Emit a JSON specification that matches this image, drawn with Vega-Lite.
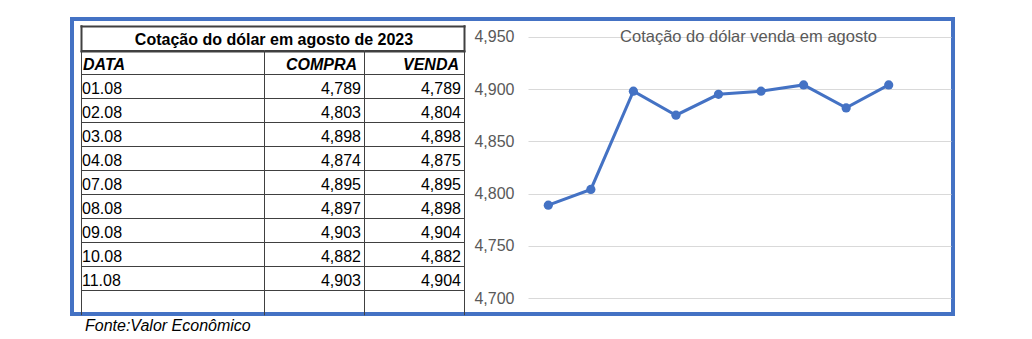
{
  "$schema": "https://vega.github.io/schema/vega-lite/v6.json",
  "background": "white",
  "autosize": {"type": "none"},
  "padding": {"left": 72, "top": 19, "right": 79, "bottom": 25},
  "width": 881,
  "height": 295,
  "view": {"stroke": "#4472C4", "strokeWidth": 4},
  "datasets": {
    "dolar": [
      {"DATA": "01.08", "COMPRA": 4.789, "VENDA": 4.789},
      {"DATA": "02.08", "COMPRA": 4.803, "VENDA": 4.804},
      {"DATA": "03.08", "COMPRA": 4.898, "VENDA": 4.898},
      {"DATA": "04.08", "COMPRA": 4.874, "VENDA": 4.875},
      {"DATA": "07.08", "COMPRA": 4.895, "VENDA": 4.895},
      {"DATA": "08.08", "COMPRA": 4.897, "VENDA": 4.898},
      {"DATA": "09.08", "COMPRA": 4.903, "VENDA": 4.904},
      {"DATA": "10.08", "COMPRA": 4.882, "VENDA": 4.882},
      {"DATA": "11.08", "COMPRA": 4.903, "VENDA": 4.904}
    ]
  },
  "title": {"text": "Fonte:Valor Econômico", "orient": "bottom", "anchor": "start", "frame": "group", "fontSize": 16, "fontStyle": "italic", "fontWeight": "normal", "color": "#000000", "baseline": "alphabetic", "offset": 17, "dx": 13},
  "layer": [
    {
      "data": {"values": [{"titulo": "Cotação do dólar em agosto de 2023"}]},
      "mark": {"type": "text", "fontSize": 16, "fontWeight": "bold", "baseline": "alphabetic", "dy": 7, "dx": 1.5, "color": "#000000"},
      "encoding": {
        "x": {"datum": 0.5, "type": "quantitative", "scale": {"domain": [0, 1], "range": [9, 392]}, "axis": {"orient": "top", "values": [0, 1], "grid": true, "gridColor": "#404040", "gridWidth": 2, "gridCap": "square", "gridOpacity": 1, "labels": false, "ticks": false, "domain": false, "title": null}},
        "y": {"datum": 0.5, "type": "quantitative", "scale": {"domain": [0, 1], "range": [31.7, 6.7]}, "axis": {"orient": "left", "values": [0, 1], "grid": true, "gridColor": "#404040", "gridWidth": 2, "gridCap": "square", "gridOpacity": 1, "labels": false, "ticks": false, "domain": false, "title": null}},
        "text": {"field": "titulo"}
      }
    },
    {
      "layer": [
        {
          "data": {"name": "dolar"},
          "mark": {"type": "text", "align": "left", "baseline": "alphabetic", "dx": 1, "dy": 7, "fontSize": 16, "color": "#000000"},
          "encoding": {
            "x": {"datum": 0, "type": "quantitative", "scale": {"domain": [0, 1], "range": [9, 192]}, "axis": {"orient": "top", "values": [0, 1], "grid": true, "gridColor": "#404040", "gridWidth": 1, "gridOpacity": 1, "labels": false, "ticks": false, "domain": false, "title": null}},
            "y": {"field": "DATA", "type": "nominal", "scale": {"type": "band", "domain": ["DATA", "01.08", "02.08", "03.08", "04.08", "07.08", "08.08", "09.08", "10.08", "11.08", " "], "range": [31.7, 295.7], "paddingInner": 0, "paddingOuter": 0}, "axis": {"orient": "left", "grid": true, "bandPosition": 0, "gridColor": "#404040", "gridWidth": 1, "gridOpacity": 1, "labels": false, "ticks": false, "domain": false, "title": null}},
            "text": {"field": "DATA"}
          }
        },
        {
          "data": {"values": [{"cabecalho": "DATA"}]},
          "mark": {"type": "text", "align": "left", "baseline": "alphabetic", "dx": 2, "dy": 7, "fontSize": 16, "fontWeight": "bold", "fontStyle": "italic", "color": "#000000"},
          "encoding": {
            "x": {"datum": 0, "type": "quantitative"},
            "y": {"datum": "DATA", "type": "nominal"},
            "text": {"field": "cabecalho"}
          }
        }
      ]
    },
    {
      "layer": [
        {
          "data": {"name": "dolar"},
          "mark": {"type": "text", "align": "right", "baseline": "alphabetic", "dx": -3, "dy": 7, "fontSize": 16, "color": "#000000"},
          "encoding": {
            "x": {"datum": 1, "type": "quantitative", "scale": {"domain": [0, 1], "range": [192, 292]}, "axis": {"orient": "top", "values": [0, 1], "grid": true, "gridColor": "#404040", "gridWidth": 1, "gridOpacity": 1, "labels": false, "ticks": false, "domain": false, "title": null}},
            "y": {"field": "DATA", "type": "nominal", "scale": {"type": "band", "domain": ["DATA", "01.08", "02.08", "03.08", "04.08", "07.08", "08.08", "09.08", "10.08", "11.08", " "], "range": [31.7, 295.7], "paddingInner": 0, "paddingOuter": 0}, "axis": {"orient": "left", "grid": true, "bandPosition": 0, "gridColor": "#404040", "gridWidth": 1, "gridOpacity": 1, "labels": false, "ticks": false, "domain": false, "title": null}},
            "text": {"field": "COMPRA", "type": "quantitative", "format": ".3f"}
          }
        },
        {
          "data": {"values": [{"cabecalho": "COMPRA"}]},
          "mark": {"type": "text", "align": "right", "baseline": "alphabetic", "dx": -7, "dy": 7, "fontSize": 16, "fontWeight": "bold", "fontStyle": "italic", "color": "#000000"},
          "encoding": {
            "x": {"datum": 1, "type": "quantitative"},
            "y": {"datum": "DATA", "type": "nominal"},
            "text": {"field": "cabecalho"}
          }
        }
      ]
    },
    {
      "layer": [
        {
          "data": {"name": "dolar"},
          "mark": {"type": "text", "align": "right", "baseline": "alphabetic", "dx": -3, "dy": 7, "fontSize": 16, "color": "#000000"},
          "encoding": {
            "x": {"datum": 1, "type": "quantitative", "scale": {"domain": [0, 1], "range": [292, 392]}, "axis": {"orient": "top", "values": [0, 1], "grid": true, "gridColor": "#404040", "gridWidth": 1, "gridOpacity": 1, "labels": false, "ticks": false, "domain": false, "title": null}},
            "y": {"field": "DATA", "type": "nominal", "scale": {"type": "band", "domain": ["DATA", "01.08", "02.08", "03.08", "04.08", "07.08", "08.08", "09.08", "10.08", "11.08", " "], "range": [31.7, 295.7], "paddingInner": 0, "paddingOuter": 0}, "axis": {"orient": "left", "grid": true, "bandPosition": 0, "gridColor": "#404040", "gridWidth": 1, "gridOpacity": 1, "labels": false, "ticks": false, "domain": false, "title": null}},
            "text": {"field": "VENDA", "type": "quantitative", "format": ".3f"}
          }
        },
        {
          "data": {"values": [{"cabecalho": "VENDA"}]},
          "mark": {"type": "text", "align": "right", "baseline": "alphabetic", "dx": -5, "dy": 7, "fontSize": 16, "fontWeight": "bold", "fontStyle": "italic", "color": "#000000"},
          "encoding": {
            "x": {"datum": 1, "type": "quantitative"},
            "y": {"datum": "DATA", "type": "nominal"},
            "text": {"field": "cabecalho"}
          }
        }
      ]
    },
    {
      "layer": [
        {
          "data": {"name": "dolar"},
          "encoding": {
            "x": {"field": "DATA", "type": "ordinal", "scale": {"type": "point", "range": [456, 879], "padding": 0.9706, "align": 0.2458}, "axis": null},
            "y": {"field": "VENDA", "type": "quantitative", "scale": {"domain": [4.68489, 4.96702], "nice": false, "zero": false}, "axis": {"orient": "left", "offset": -456, "values": [4.7, 4.75, 4.8, 4.85, 4.9, 4.95], "format": ".3f", "grid": true, "gridColor": "#d9d9d9", "gridWidth": 1, "domain": false, "ticks": false, "tickSize": 0, "labelPadding": 14, "labelFontSize": 16, "labelColor": "#595959", "title": null}}
          },
          "layer": [
            {"mark": {"type": "line", "color": "#4472C4", "strokeWidth": 3}},
            {"mark": {"type": "point", "filled": true, "size": 85, "color": "#4472C4", "opacity": 1}}
          ]
        },
        {
          "data": {"values": [{"titulo": "Cotação do dólar venda em agosto"}]},
          "mark": {"type": "text", "fontSize": 16.5, "color": "#595959", "baseline": "middle", "dx": 236},
          "encoding": {
            "y": {"datum": 4.95, "type": "quantitative"},
            "text": {"field": "titulo"}
          }
        }
      ]
    }
  ],
  "resolve": {"scale": {"x": "independent", "y": "independent"}, "axis": {"x": "independent", "y": "independent"}},
  "config": {
    "font": "Liberation Sans",
    "locale": {"number": {"decimal": ",", "thousands": ".", "grouping": [3], "currency": ["R$", ""]}}
  }
}
